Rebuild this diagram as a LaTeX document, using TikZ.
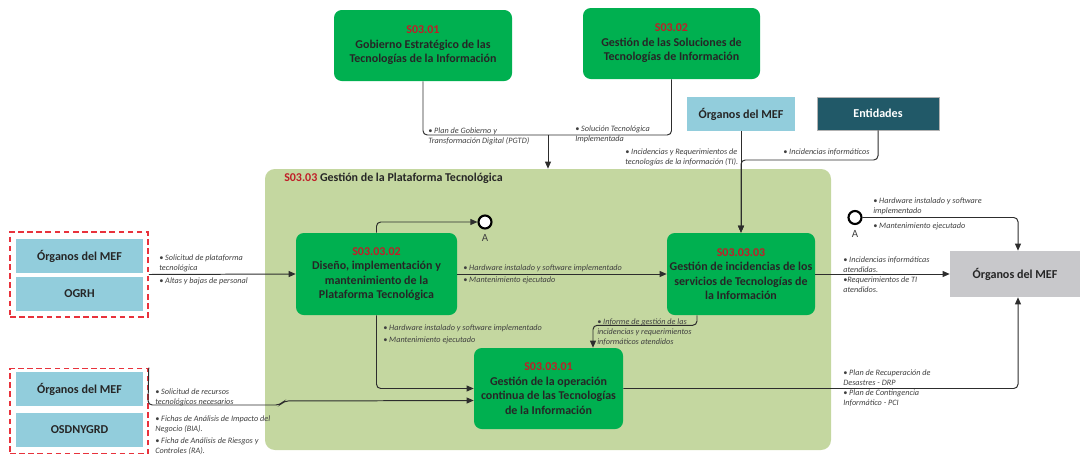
\documentclass[tikz,border=0pt]{standalone}
\usepackage{fontspec}
\setmainfont{Carlito}
\usetikzlibrary{arrows.meta,calc}
\definecolor{gbox}{RGB}{0,176,80}
\definecolor{cred}{RGB}{192,30,40}
\definecolor{contc}{RGB}{196,215,160}
\definecolor{lblue}{RGB}{146,205,220}
\definecolor{teal}{RGB}{33,89,104}
\definecolor{grayb}{RGB}{200,200,203}
\definecolor{dred}{RGB}{232,50,60}
\definecolor{txt}{RGB}{38,38,38}
\definecolor{labc}{RGB}{64,64,64}
\definecolor{linec}{RGB}{45,45,45}
\begin{document}
\begin{tikzpicture}[x=0.025cm,y=-0.025cm,
  proc/.style={fill=gbox, rounded corners=5.5pt, align=center, text=txt,
    font=\bfseries\fontsize{8.5}{10.3}\selectfont, inner sep=0pt},
  ext/.style={align=center, inner sep=0pt, font=\bfseries\fontsize{8.6}{10}\selectfont},
  dbox/.style={draw=dred, line width=1.1pt, dash pattern=on 4pt off 2.5pt, inner sep=0pt,
    minimum width=138*0.025cm, minimum height=85*0.025cm},
  ibox/.style={ext, fill=lblue, text=txt, minimum width=127*0.025cm, minimum height=34*0.025cm},
  lab/.style={font=\itshape\fontsize{5.85}{7.1}\selectfont, text=labc, align=left,
    anchor=north west, inner sep=0pt},
  conn/.style={draw=linec, line width=0.7pt, rounded corners=3pt},
  arr/.style={conn, -{Triangle[length=5pt,width=4.2pt]}},
  acirc/.style={circle, draw=black, line width=1.5pt, fill=white, inner sep=0pt,
    minimum size=13*0.025cm},
  alab/.style={font=\fontsize{7.8}{9}\selectfont, text=labc, inner sep=0pt}
]
\useasboundingbox (0,0) rectangle (1080,460);

% container
\node[fill=contc, rounded corners=7pt, minimum width=566*0.025cm, minimum height=281*0.025cm, inner sep=0pt] (cont) at (548,309.5) {};
\node[anchor=west, inner sep=0pt, font=\bfseries\fontsize{8.5}{9}\selectfont, text=txt] (ctitle) at (284,178) {\textcolor{cred}{S03.03} Gestión de la Plataforma Tecnológica};

% top processes
\node[proc, minimum width=178*0.025cm, minimum height=71*0.025cm] (s0301) at (423,45.5)
  {\textcolor{cred}{S03.01}\\Gobierno Estratégico de las\\Tecnologías de la Información};
\node[proc, minimum width=177*0.025cm, minimum height=71*0.025cm] (s0302) at (671.5,43.5)
  {\textcolor{cred}{S03.02}\\Gestión de las Soluciones de\\Tecnologías de Información};

% external top
\node[ext, fill=lblue, text=txt, minimum width=108*0.025cm, minimum height=34*0.025cm] (orgt) at (741,114) {Órganos del MEF};
\node[ext, fill=teal, draw=gray!60, line width=0.4pt, text=white, minimum width=122*0.025cm, minimum height=33*0.025cm] (ent) at (878,113.5) {Entidades};

% inner processes
\node[proc, minimum width=161*0.025cm, minimum height=82*0.025cm] (s030302) at (376.5,274)
  {\textcolor{cred}{S03.03.02}\\Diseño, implementación y\\mantenimiento de la\\Plataforma Tecnológica};
\node[proc, minimum width=148*0.025cm, minimum height=82*0.025cm] (s030303) at (741,274)
  {\textcolor{cred}{S03.03.03}\\Gestión de incidencias de los\\servicios de Tecnologías de\\la Información};
\node[proc, minimum width=149*0.025cm, minimum height=81*0.025cm] (s030301) at (548.5,388.5)
  {\textcolor{cred}{S03.03.01}\\Gestión de la operación\\continua de las Tecnologías\\de la Información};

% right external
\node[ext, fill=grayb, text=txt, minimum width=130*0.025cm, minimum height=46*0.025cm] (orgr) at (1015,274) {Órganos del MEF};

% left groups
\node[dbox] (g1) at (79,274.5) {};
\node[ibox] (o1) at (79.5,256) {Órganos del MEF};
\node[ibox] (ogrh) at (79.5,294) {OGRH};
\node[dbox] (g2) at (79,411) {};
\node[ibox] (o2) at (79.5,389) {Órganos del MEF};
\node[ibox] (osd) at (79.5,430) {OSDNYGRD};

% circles A
\node[acirc] (ca) at (485,222) {};
\node[alab] (cal) at (485,238) {A};
\node[acirc] (cb) at (855,217.5) {};
\node[alab] (cbl) at (855,234) {A};

% connectors
\coordinate (m) at (548,135);
\draw[conn] (s0301.south) |- (m);
\draw[conn] (s0302.south) |- (m);
\draw[arr] (m) -- (m |- cont.north);

\coordinate (j) at (741,160);
\draw[arr] (orgt.south) -- (s030303.north);
\draw[arr] (ent.south) |- (j) -- (s030303.north);

\draw[arr] (g1.east) -- (s030302.west);
\draw[arr] (s030302.east) -- (s030303.west);
\draw[arr] (s030302.north) |- (ca.west);
\draw[arr] (s030302.south) |- (s030301.west);
\draw[arr] ($(s030303.south)+(-44,0)$) -- ++(0,10) -| ($(s030301.north)+(44.5,0)$);
\draw[arr] (s030303.east) -- (orgr.west);
\draw[arr] (cb.east) -| ($(orgr.north)+(3,0)$);
\draw[arr] (s030301.east) -| ($(orgr.south)+(3,0)$);
\draw[arr] (g2.north east) -- (148,405) -- (280,405) -- (284,401) -- ($(s030301.west)+(0,12)$);

% labels
\node[lab] (l1) at (428,128) {• Plan de Gobierno y\\Transformación Digital (PGTD)};
\node[lab] (l2) at (575,126) {• Solución Tecnológica\\Implementada};
\node[lab] (l3) at (625,149) {• Incidencias y Requerimientos de\\tecnologías de la información (TI).};
\node[lab] (l4) at (783,149) {• Incidencias informáticos};
\node[lab] (l5) at (159,255) {• Solicitud de plataforma\\tecnológica\\[1.6pt]• Altas y bajas de personal};
\node[lab] (l6) at (463,265) {• Hardware instalado y software implementado\\[1.2pt]• Mantenimiento ejecutado};
\node[lab] (l7) at (383,325) {• Hardware instalado y software implementado\\[1.2pt]• Mantenimiento ejecutado};
\node[lab] (l8) at (597,319) {• Informe de gestión de las\\incidencias y requerimientos\\informáticos atendidos};
\node[lab] (l9) at (843,257) {• Incidencias informáticas\\atendidas.\\•Requerimientos de TI\\atendidos.};
\node[lab] (l10) at (873,198) {• Hardware instalado y software\\implementado\\[3pt]• Mantenimiento ejecutado};
\node[lab] (l11) at (843,370) {• Plan de Recuperación de\\Desastres - DRP\\• Plan de Contingencia\\Informático - PCI};
\node[lab] (l12) at (155,389) {• Solicitud de recursos\\tecnológicos necesarios};
\node[lab] (l13) at (155,416) {• Fichas de Análisis de Impacto del\\Negocio (BIA).};
\node[lab] (l14) at (155,438) {• Ficha de Análisis de Riesgos y\\Controles (RA).};
\end{tikzpicture}
\end{document}
